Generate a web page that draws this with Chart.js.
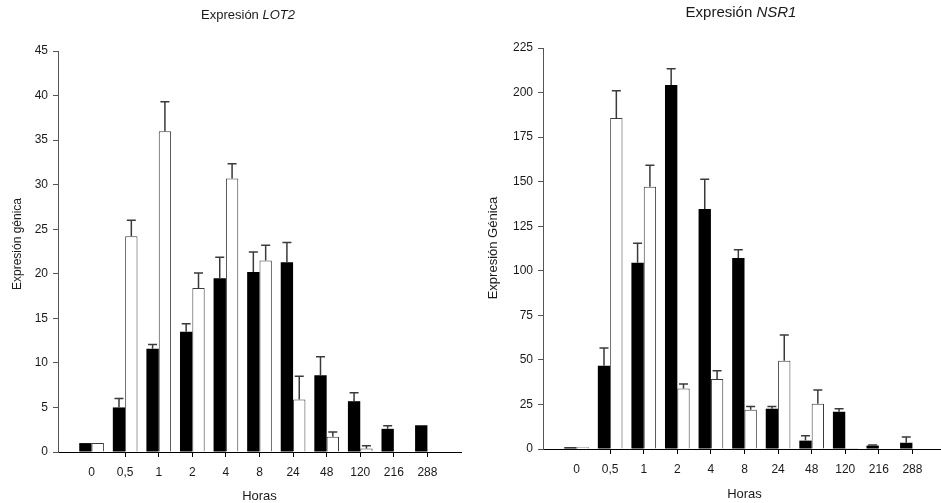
<!DOCTYPE html>
<html>
<head>
<meta charset="utf-8">
<script src="https://cdn.jsdelivr.net/npm/chart.js@4"></script>
<style>
  html, body { margin: 0; padding: 0; background: #fff; overflow: hidden; }
  #wrap { position: relative; width: 941px; height: 503px; overflow: hidden; }
  .box { position: absolute; top: 0; height: 503px; }
</style>
</head>
<body>
<div id="wrap">
  <div class="box" style="left:0;width:470px"><canvas id="lot2"></canvas></div>
  <div class="box" style="left:470px;width:490px"><canvas id="nsr1"></canvas></div>
</div>
<script>
// sampling times (hours)
const horas = ['0', '0,5', '1', '2', '4', '8', '24', '48', '120', '216', '288'];

// LOT2
const lot2Black    = [1.0, 5.0, 11.6, 13.5, 19.5, 20.2, 21.3, 8.6, 5.7, 2.6, 3.0];
const lot2BlackErr = [0, 1.0, 0.45, 0.9, 2.35, 2.25, 2.2, 2.1, 0.95, 0.35, 0];
const lot2White    = [1.0, 24.2, 36.0, 18.4, 30.7, 21.5, 5.9, 1.7, 0.4, 0, 0];
const lot2WhiteErr = [0, 1.8, 3.3, 1.7, 1.65, 1.7, 2.6, 0.55, 0.3, 0, 0];

// NSR1
const nsr1Black    = [1, 46.7, 104.5, 204.3, 134.7, 107.2, 22.6, 4.7, 20.9, 1.9, 3.5];
const nsr1BlackErr = [0, 10, 11, 9, 16.6, 4.6, 1.3, 2.8, 1.7, 0.3, 3.2];
const nsr1White    = [1, 185.7, 147.2, 34, 39.3, 22, 49.5, 25.4, 0.5, 0, 0];
const nsr1WhiteErr = [0, 15.3, 12, 2.5, 4.6, 1.9, 14.5, 7.7, 0, 0, 0];

const FONT = '"Liberation Sans", Arial, sans-serif';
const TXT = '#1a1a1a';

// blank slot at each end so the axis runs half a category past the bars
const pad = a => [null, ...a, null];

// upper error bars with a cap
const errorBars = {
  id: 'errorBars',
  afterDatasetsDraw(chart) {
    const ctx = chart.ctx;
    const y = chart.scales.y;
    ctx.save();
    ctx.lineWidth = 1.5;
    ctx.strokeStyle = '#3a3a3a';
    chart.data.datasets.forEach((ds, i) => {
      const meta = chart.getDatasetMeta(i);
      meta.data.forEach((bar, j) => {
        const e = ds.errors[j];
        if (!e) return;
        const top = y.getPixelForValue(ds.data[j] + e);
        ctx.beginPath();
        ctx.moveTo(bar.x, bar.y);
        ctx.lineTo(bar.x, top);
        ctx.moveTo(bar.x - 4.5, top);
        ctx.lineTo(bar.x + 4.5, top);
        ctx.stroke();
      });
    });
    ctx.restore();
  }
};

// title (gene name in italics) and axis titles
const captions = {
  id: 'captions',
  afterDraw(chart, args, o) {
    const ctx = chart.ctx;
    const area = chart.chartArea;
    ctx.save();
    ctx.fillStyle = TXT;
    ctx.textBaseline = 'middle';
    const plain = o.titleSize + 'px ' + FONT;
    const ital = 'italic ' + plain;
    ctx.font = plain;
    const w1 = ctx.measureText(o.title[0]).width;
    ctx.font = ital;
    const w2 = ctx.measureText(o.title[1]).width;
    const x0 = o.titleX - (w1 + w2) / 2;
    ctx.textAlign = 'left';
    ctx.font = plain;
    ctx.fillText(o.title[0], x0, o.titleY);
    ctx.font = ital;
    ctx.fillText(o.title[1], x0 + w1, o.titleY);

    ctx.textAlign = 'center';
    ctx.font = '13px ' + FONT;
    ctx.fillText(o.xTitle, (area.left + area.right) / 2, o.xTitleY);
    ctx.font = o.yTitleSize + 'px ' + FONT;
    ctx.translate(o.yTitleX, o.yTitleY);
    ctx.rotate(-Math.PI / 2);
    ctx.fillText(o.yTitle, 0, 0);
    ctx.restore();
  }
};

function makeChart(id, black, blackErr, white, whiteErr, cfg) {
  const labels = pad(horas);
  const last = labels.length - 1;
  return new Chart(document.getElementById(id), {
    type: 'bar',
    data: {
      labels: labels,
      datasets: [
        {
          data: pad(black),
          errors: pad(blackErr),
          backgroundColor: '#000',
          borderColor: '#000',
          borderWidth: 0,
          categoryPercentage: 0.735,
          barPercentage: 1.0
        },
        {
          data: pad(white),
          errors: pad(whiteErr),
          backgroundColor: '#fff',
          borderColor: '#3c3c3c',
          borderWidth: 1,
          categoryPercentage: 0.735,
          barPercentage: 1.0
        }
      ]
    },
    options: {
      responsive: true,
      maintainAspectRatio: false,
      animation: false,
      layout: { padding: { top: cfg.padTop, right: cfg.padRight, left: 0, bottom: 0 } },
      plugins: {
        legend: { display: false },
        tooltip: { enabled: false },
        captions: cfg.captions
      },
      scales: {
        x: {
          type: 'category',
          offset: false,
          grid: {
            offset: false,
            drawOnChartArea: false,
            tickLength: 5,
            tickColor: c => (c.index === 0 || c.index === last) ? 'rgba(0,0,0,0)' : '#000'
          },
          border: { color: '#000', width: 1 },
          ticks: { autoSkip: false, maxRotation: 0, padding: 8, color: TXT, font: { family: FONT, size: 12 } },
          afterFit: s => { s.height = cfg.xAxisH; }
        },
        y: {
          min: 0,
          max: cfg.yMax,
          grid: { drawOnChartArea: false, tickLength: 5, tickColor: '#555' },
          border: { color: '#555', width: 1 },
          ticks: { stepSize: cfg.yStep, padding: 5, color: TXT, font: { family: FONT, size: 12 } },
          afterFit: s => { s.width = cfg.yAxisW; }
        }
      }
    },
    plugins: [errorBars, captions]
  });
}

makeChart('lot2', lot2Black, lot2BlackErr, lot2White, lot2WhiteErr, {
  yMax: 45, yStep: 5, yAxisW: 58, xAxisH: 51, padTop: 51, padRight: 9,
  captions: {
    title: ['Expresión ', 'LOT2'], titleSize: 13, titleX: 248, titleY: 15,
    xTitle: 'Horas', xTitleY: 496,
    yTitle: 'Expresión génica', yTitleSize: 12, yTitleX: 18, yTitleY: 244
  }
});

makeChart('nsr1', nsr1Black, nsr1BlackErr, nsr1White, nsr1WhiteErr, {
  yMax: 225, yStep: 25, yAxisW: 73, xAxisH: 54, padTop: 48, padRight: 14,
  captions: {
    title: ['Expresión ', 'NSR1'], titleSize: 15, titleX: 271, titleY: 13,
    xTitle: 'Horas', xTitleY: 494,
    yTitle: 'Expresión Génica', yTitleSize: 13, yTitleX: 23, yTitleY: 248
  }
});
</script>
</body>
</html>
